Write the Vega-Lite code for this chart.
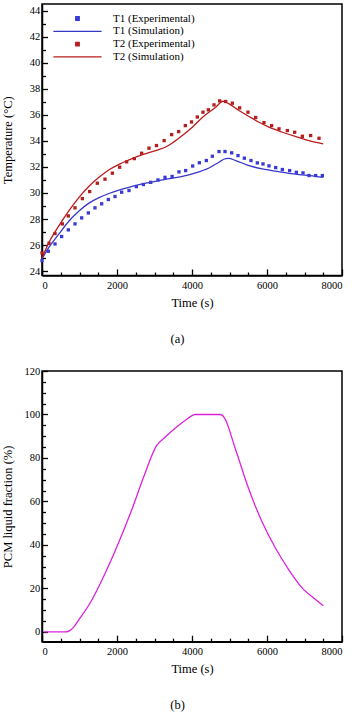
{
  "$schema": "https://vega.github.io/schema/vega-lite/v6.json",
  "padding": {"left": 0, "top": 3, "right": 0, "bottom": 0},
  "background": "white",
  "config": {
    "view": {"stroke": "black", "strokeWidth": 1.5},
    "font": "Liberation Serif",
    "axis": {
      "grid": false,
      "domainColor": "black",
      "domainWidth": 1.5,
      "tickColor": "black",
      "tickWidth": 1.3,
      "labelFont": "Liberation Serif",
      "labelFontSize": 10.5,
      "labelColor": "black",
      "titleFont": "Liberation Serif",
      "titleFontSize": 12.5,
      "titleFontWeight": "normal",
      "titleColor": "black"
    },
    "title": {"font": "Liberation Serif", "fontSize": 12.5, "fontWeight": "normal", "color": "black"}
  },
  "datasets": {
    "temp": [
      {"series": "T1 (Experimental)", "t": 0, "T": 24.81},
      {"series": "T1 (Experimental)", "t": 169, "T": 25.53},
      {"series": "T1 (Experimental)", "t": 347, "T": 26.09},
      {"series": "T1 (Experimental)", "t": 524, "T": 26.66},
      {"series": "T1 (Experimental)", "t": 702, "T": 27.17},
      {"series": "T1 (Experimental)", "t": 880, "T": 27.63},
      {"series": "T1 (Experimental)", "t": 1058, "T": 28.09},
      {"series": "T1 (Experimental)", "t": 1236, "T": 28.47},
      {"series": "T1 (Experimental)", "t": 1413, "T": 28.86},
      {"series": "T1 (Experimental)", "t": 1591, "T": 29.17},
      {"series": "T1 (Experimental)", "t": 1769, "T": 29.5},
      {"series": "T1 (Experimental)", "t": 1947, "T": 29.73},
      {"series": "T1 (Experimental)", "t": 2124, "T": 30.06},
      {"series": "T1 (Experimental)", "t": 2320, "T": 30.19},
      {"series": "T1 (Experimental)", "t": 2516, "T": 30.49},
      {"series": "T1 (Experimental)", "t": 2702, "T": 30.65},
      {"series": "T1 (Experimental)", "t": 2898, "T": 30.82},
      {"series": "T1 (Experimental)", "t": 3093, "T": 31.0},
      {"series": "T1 (Experimental)", "t": 3280, "T": 31.2},
      {"series": "T1 (Experimental)", "t": 3470, "T": 31.27},
      {"series": "T1 (Experimental)", "t": 3653, "T": 31.62},
      {"series": "T1 (Experimental)", "t": 3831, "T": 31.72},
      {"series": "T1 (Experimental)", "t": 4018, "T": 32.07},
      {"series": "T1 (Experimental)", "t": 4196, "T": 32.32},
      {"series": "T1 (Experimental)", "t": 4382, "T": 32.49},
      {"series": "T1 (Experimental)", "t": 4542, "T": 32.82},
      {"series": "T1 (Experimental)", "t": 4720, "T": 33.18},
      {"series": "T1 (Experimental)", "t": 4880, "T": 33.18},
      {"series": "T1 (Experimental)", "t": 5058, "T": 33.08},
      {"series": "T1 (Experimental)", "t": 5227, "T": 32.87},
      {"series": "T1 (Experimental)", "t": 5396, "T": 32.67},
      {"series": "T1 (Experimental)", "t": 5573, "T": 32.49},
      {"series": "T1 (Experimental)", "t": 5742, "T": 32.31},
      {"series": "T1 (Experimental)", "t": 5893, "T": 32.23},
      {"series": "T1 (Experimental)", "t": 6053, "T": 32.08},
      {"series": "T1 (Experimental)", "t": 6231, "T": 31.95},
      {"series": "T1 (Experimental)", "t": 6409, "T": 31.8},
      {"series": "T1 (Experimental)", "t": 6604, "T": 31.72},
      {"series": "T1 (Experimental)", "t": 6782, "T": 31.59},
      {"series": "T1 (Experimental)", "t": 6960, "T": 31.54},
      {"series": "T1 (Experimental)", "t": 7120, "T": 31.34},
      {"series": "T1 (Experimental)", "t": 7298, "T": 31.34},
      {"series": "T1 (Experimental)", "t": 7476, "T": 31.34},
      {"series": "T1 (Simulation)", "t": 0, "T": 24.95},
      {"series": "T1 (Simulation)", "t": 187, "T": 25.84},
      {"series": "T1 (Simulation)", "t": 453, "T": 26.86},
      {"series": "T1 (Simulation)", "t": 720, "T": 27.85},
      {"series": "T1 (Simulation)", "t": 987, "T": 28.62},
      {"series": "T1 (Simulation)", "t": 1253, "T": 29.22},
      {"series": "T1 (Simulation)", "t": 1520, "T": 29.64},
      {"series": "T1 (Simulation)", "t": 1787, "T": 29.96},
      {"series": "T1 (Simulation)", "t": 2053, "T": 30.22},
      {"series": "T1 (Simulation)", "t": 2320, "T": 30.44},
      {"series": "T1 (Simulation)", "t": 2587, "T": 30.64},
      {"series": "T1 (Simulation)", "t": 2853, "T": 30.8},
      {"series": "T1 (Simulation)", "t": 3120, "T": 30.95},
      {"series": "T1 (Simulation)", "t": 3400, "T": 31.1},
      {"series": "T1 (Simulation)", "t": 3742, "T": 31.28},
      {"series": "T1 (Simulation)", "t": 4098, "T": 31.54},
      {"series": "T1 (Simulation)", "t": 4453, "T": 31.92},
      {"series": "T1 (Simulation)", "t": 4720, "T": 32.36},
      {"series": "T1 (Simulation)", "t": 4900, "T": 32.64},
      {"series": "T1 (Simulation)", "t": 4980, "T": 32.65},
      {"series": "T1 (Simulation)", "t": 5164, "T": 32.49},
      {"series": "T1 (Simulation)", "t": 5520, "T": 32.1},
      {"series": "T1 (Simulation)", "t": 5876, "T": 31.85},
      {"series": "T1 (Simulation)", "t": 6231, "T": 31.67},
      {"series": "T1 (Simulation)", "t": 6587, "T": 31.51},
      {"series": "T1 (Simulation)", "t": 6942, "T": 31.39},
      {"series": "T1 (Simulation)", "t": 7298, "T": 31.28},
      {"series": "T1 (Simulation)", "t": 7500, "T": 31.2},
      {"series": "T2 (Experimental)", "t": 0, "T": 25.4},
      {"series": "T2 (Experimental)", "t": 187, "T": 26.14},
      {"series": "T2 (Experimental)", "t": 347, "T": 26.89},
      {"series": "T2 (Experimental)", "t": 542, "T": 27.63},
      {"series": "T2 (Experimental)", "t": 702, "T": 28.24},
      {"series": "T2 (Experimental)", "t": 880, "T": 28.86},
      {"series": "T2 (Experimental)", "t": 1076, "T": 29.57},
      {"series": "T2 (Experimental)", "t": 1271, "T": 30.11},
      {"series": "T2 (Experimental)", "t": 1476, "T": 30.75},
      {"series": "T2 (Experimental)", "t": 1680, "T": 31.06},
      {"series": "T2 (Experimental)", "t": 1876, "T": 31.52},
      {"series": "T2 (Experimental)", "t": 2071, "T": 31.98},
      {"series": "T2 (Experimental)", "t": 2258, "T": 32.39},
      {"series": "T2 (Experimental)", "t": 2462, "T": 32.64},
      {"series": "T2 (Experimental)", "t": 2658, "T": 33.05},
      {"series": "T2 (Experimental)", "t": 2853, "T": 33.44},
      {"series": "T2 (Experimental)", "t": 3053, "T": 33.64},
      {"series": "T2 (Experimental)", "t": 3258, "T": 34.02},
      {"series": "T2 (Experimental)", "t": 3458, "T": 34.48},
      {"series": "T2 (Experimental)", "t": 3645, "T": 34.71},
      {"series": "T2 (Experimental)", "t": 3822, "T": 35.17},
      {"series": "T2 (Experimental)", "t": 3987, "T": 35.45},
      {"series": "T2 (Experimental)", "t": 4142, "T": 35.83},
      {"series": "T2 (Experimental)", "t": 4293, "T": 36.2},
      {"series": "T2 (Experimental)", "t": 4436, "T": 36.38},
      {"series": "T2 (Experimental)", "t": 4587, "T": 36.76},
      {"series": "T2 (Experimental)", "t": 4738, "T": 37.07},
      {"series": "T2 (Experimental)", "t": 4898, "T": 37.02},
      {"series": "T2 (Experimental)", "t": 5076, "T": 36.89},
      {"series": "T2 (Experimental)", "t": 5271, "T": 36.53},
      {"series": "T2 (Experimental)", "t": 5493, "T": 36.2},
      {"series": "T2 (Experimental)", "t": 5698, "T": 35.79},
      {"series": "T2 (Experimental)", "t": 5920, "T": 35.4},
      {"series": "T2 (Experimental)", "t": 6124, "T": 35.17},
      {"series": "T2 (Experimental)", "t": 6320, "T": 34.92},
      {"series": "T2 (Experimental)", "t": 6542, "T": 34.79},
      {"series": "T2 (Experimental)", "t": 6738, "T": 34.66},
      {"series": "T2 (Experimental)", "t": 6942, "T": 34.35},
      {"series": "T2 (Experimental)", "t": 7164, "T": 34.41},
      {"series": "T2 (Experimental)", "t": 7387, "T": 34.2},
      {"series": "T2 (Simulation)", "t": 0, "T": 25.0},
      {"series": "T2 (Simulation)", "t": 187, "T": 26.22},
      {"series": "T2 (Simulation)", "t": 453, "T": 27.5},
      {"series": "T2 (Simulation)", "t": 720, "T": 28.65},
      {"series": "T2 (Simulation)", "t": 987, "T": 29.67},
      {"series": "T2 (Simulation)", "t": 1253, "T": 30.52},
      {"series": "T2 (Simulation)", "t": 1520, "T": 31.2},
      {"series": "T2 (Simulation)", "t": 1787, "T": 31.78},
      {"series": "T2 (Simulation)", "t": 2053, "T": 32.2},
      {"series": "T2 (Simulation)", "t": 2320, "T": 32.54},
      {"series": "T2 (Simulation)", "t": 2587, "T": 32.85},
      {"series": "T2 (Simulation)", "t": 2853, "T": 33.1},
      {"series": "T2 (Simulation)", "t": 3120, "T": 33.33},
      {"series": "T2 (Simulation)", "t": 3298, "T": 33.53},
      {"series": "T2 (Simulation)", "t": 3476, "T": 33.84},
      {"series": "T2 (Simulation)", "t": 3742, "T": 34.41},
      {"series": "T2 (Simulation)", "t": 4009, "T": 35.05},
      {"series": "T2 (Simulation)", "t": 4276, "T": 35.8},
      {"series": "T2 (Simulation)", "t": 4631, "T": 36.58},
      {"series": "T2 (Simulation)", "t": 4827, "T": 37.04},
      {"series": "T2 (Simulation)", "t": 4987, "T": 36.84},
      {"series": "T2 (Simulation)", "t": 5253, "T": 36.33},
      {"series": "T2 (Simulation)", "t": 5520, "T": 35.87},
      {"series": "T2 (Simulation)", "t": 5787, "T": 35.43},
      {"series": "T2 (Simulation)", "t": 6053, "T": 35.05},
      {"series": "T2 (Simulation)", "t": 6409, "T": 34.66},
      {"series": "T2 (Simulation)", "t": 6764, "T": 34.33},
      {"series": "T2 (Simulation)", "t": 7120, "T": 34.02},
      {"series": "T2 (Simulation)", "t": 7500, "T": 33.77}
    ],
    "frac": [
      {"t": 50, "v": 0},
      {"t": 642, "v": 0},
      {"t": 750, "v": 0.7},
      {"t": 850, "v": 2.3},
      {"t": 955, "v": 4.9},
      {"t": 1311, "v": 14.1},
      {"t": 1669, "v": 26.4},
      {"t": 2025, "v": 40.3},
      {"t": 2381, "v": 55.6},
      {"t": 2738, "v": 72.5},
      {"t": 3050, "v": 85.6},
      {"t": 3273, "v": 89.4},
      {"t": 3630, "v": 94.8},
      {"t": 3898, "v": 98.3},
      {"t": 4077, "v": 100},
      {"t": 4746, "v": 100},
      {"t": 4810, "v": 99.6},
      {"t": 4880, "v": 98.0},
      {"t": 5147, "v": 84.7},
      {"t": 5502, "v": 66.3},
      {"t": 5859, "v": 51},
      {"t": 6217, "v": 38.8},
      {"t": 6573, "v": 28.8},
      {"t": 6929, "v": 20.4},
      {"t": 7287, "v": 15},
      {"t": 7500, "v": 12.0}
    ]
  },
  "spacing": 95,
  "bounds": "flush",
  "resolve": {"scale": {"color": "independent"}, "legend": {"color": "independent"}},
  "vconcat": [
    {
      "width": 300,
      "height": 271.5,
      "title": {"text": "(a)", "orient": "bottom", "offset": 24, "dx": -14.5, "anchor": "middle"},
      "data": {"name": "temp"},
      "resolve": {"axis": {"x": "independent", "y": "independent"}},
      "layer": [
        {
          "transform": [{"filter": "indexof(datum.series, 'Simulation') >= 0"}],
          "mark": {"type": "line", "strokeWidth": 1.3, "interpolate": "monotone"},
          "encoding": {
            "x": {
              "field": "t", "type": "quantitative",
              "scale": {"domain": [0, 8000], "nice": false},
              "axis": {
                "orient": "bottom", "title": null, "labels": false, "domain": false,
                "values": [500, 1000, 1500, 2500, 3000, 3500, 4500, 5000, 5500, 6500, 7000, 7500],
                "tickSize": -3.5
              }
            },
            "y": {
              "field": "T", "type": "quantitative",
              "scale": {"domain": [23.67, 44.5], "nice": false, "zero": false},
              "axis": {
                "orient": "left", "title": null, "labels": false, "domain": false,
                "values": [25, 27, 29, 31, 33, 35, 37, 39, 41, 43],
                "tickSize": -3.5
              }
            },
            "color": {
              "field": "series", "type": "nominal",
              "scale": {
                "domain": ["T1 (Experimental)", "T1 (Simulation)", "T2 (Experimental)", "T2 (Simulation)"],
                "range": ["#3a3ad6", "#3838c8", "#b41e1e", "#b81c1c"]
              },
              "legend": {
                "orient": "none", "legendX": 30, "legendY": 9,
                "title": null, "padding": 0,
                "symbolSize": 12,
                "labelFont": "Liberation Serif", "labelFontSize": 11, "labelColor": "black",
                "labelOffset": 30, "rowPadding": 0.8,
                "encode": {
                  "symbols": {
                    "update": {
                      "shape": {"signal": "indexof(datum.value, 'Simulation') >= 0 ? 'M-13.9,0L13.9,0' : 'square'"},
                      "fill": {"signal": "indexof(datum.value, 'Simulation') >= 0 ? 'transparent' : (indexof(datum.value, 'T1') >= 0 ? '#3a3ad6' : '#b41e1e')"},
                      "stroke": {"signal": "indexof(datum.value, 'Simulation') >= 0 ? (indexof(datum.value, 'T1') >= 0 ? '#3838c8' : '#b81c1c') : 'transparent'"},
                      "strokeWidth": {"value": 1.3},
                      "opacity": {"value": 1}
                    }
                  }
                }
              }
            }
          }
        },
        {
          "transform": [{"filter": "indexof(datum.series, 'Experimental') >= 0"}],
          "mark": {"type": "point", "shape": "square", "filled": true, "size": 11, "opacity": 1},
          "encoding": {
            "x": {
              "field": "t", "type": "quantitative",
              "axis": {
                "orient": "bottom", "title": "Time (s)", "format": "d",
                "values": [0, 2000, 4000, 6000, 8000],
                "tickSize": -6.5, "labelPadding": 11.5,
                "titleY": 21, "titleBaseline": "top"
              }
            },
            "y": {
              "field": "T", "type": "quantitative",
              "axis": {
                "orient": "left", "title": "Temperature (°C)", "format": "d",
                "values": [24, 26, 28, 30, 32, 34, 36, 38, 40, 42, 44],
                "tickSize": -5.5, "labelPadding": 7.8,
                "titleX": -28
              }
            },
            "color": {"field": "series", "type": "nominal"}
          }
        }
      ]
    },
    {
      "width": 300,
      "height": 270.7,
      "title": {"text": "(b)", "orient": "bottom", "offset": 24, "dx": -14.5, "anchor": "middle"},
      "data": {"name": "frac"},
      "resolve": {"axis": {"x": "independent", "y": "independent"}},
      "layer": [
        {
          "mark": {"type": "line", "color": "#dd22dd", "strokeWidth": 1.3, "interpolate": "monotone"},
          "encoding": {
            "x": {
              "field": "t", "type": "quantitative",
              "scale": {"domain": [0, 8000], "nice": false},
              "axis": {
                "orient": "bottom", "title": "Time (s)", "format": "d",
                "values": [0, 2000, 4000, 6000, 8000],
                "tickSize": -6.5, "labelPadding": 11.5,
                "titleY": 21, "titleBaseline": "top"
              }
            },
            "y": {
              "field": "v", "type": "quantitative",
              "scale": {"domain": [-4.5, 120], "nice": false, "zero": false},
              "axis": {
                "orient": "left", "title": "PCM liquid fraction (%)", "format": "d",
                "values": [0, 20, 40, 60, 80, 100, 120],
                "tickSize": -5.5, "labelPadding": 7.8,
                "titleX": -28
              }
            }
          }
        },
        {
          "mark": {"type": "line", "opacity": 0},
          "encoding": {
            "x": {
              "field": "t", "type": "quantitative",
              "axis": {
                "orient": "bottom", "title": null, "labels": false, "domain": false,
                "values": [500, 1000, 1500, 2500, 3000, 3500, 4500, 5000, 5500, 6500, 7000, 7500],
                "tickSize": -3.5
              }
            },
            "y": {
              "field": "v", "type": "quantitative",
              "axis": {
                "orient": "left", "title": null, "labels": false, "domain": false,
                "values": [5, 10, 15, 25, 30, 35, 45, 50, 55, 65, 70, 75, 85, 90, 95, 105, 110, 115],
                "tickSize": -3.5
              }
            }
          }
        }
      ]
    }
  ]
}
